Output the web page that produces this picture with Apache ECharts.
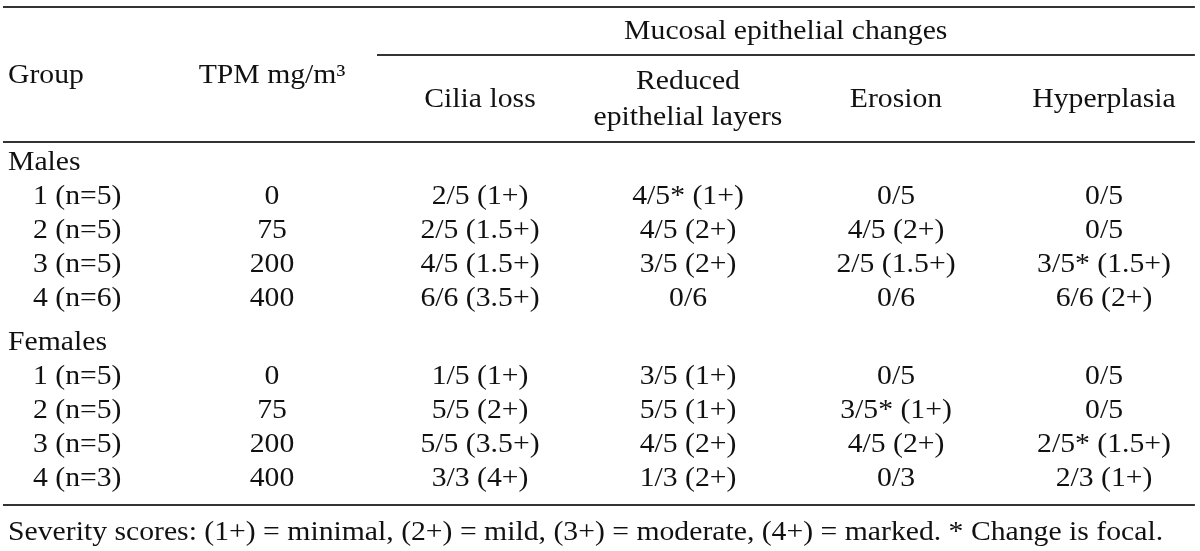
<!DOCTYPE html>
<html><head><meta charset="utf-8">
<script src="https://cdn.jsdelivr.net/npm/echarts@6/dist/echarts.min.js"></script>
<style>html,body{margin:0;padding:0;background:#fff}#c{width:1200px;height:551px}</style>
</head><body><div id="c"></div>
<script>
// ---- data ----
const spanHeader = 'Mucosal epithelial changes';
const columnHeaders = ['Group', 'TPM mg/m³', 'Cilia loss', 'Reduced\nepithelial layers', 'Erosion', 'Hyperplasia'];
const sections = ['Males', 'Females'];
const maleGroups = ['1 (n=5)', '2 (n=5)', '3 (n=5)', '4 (n=6)'];
const femaleGroups = ['1 (n=5)', '2 (n=5)', '3 (n=5)', '4 (n=3)'];
const tpm = ['0', '75', '200', '400'];
const maleCilia = ['2/5 (1+)', '2/5 (1.5+)', '4/5 (1.5+)', '6/6 (3.5+)'];
const maleReduced = ['4/5* (1+)', '4/5 (2+)', '3/5 (2+)', '0/6'];
const maleErosion = ['0/5', '4/5 (2+)', '2/5 (1.5+)', '0/6'];
const maleHyper = ['0/5', '0/5', '3/5* (1.5+)', '6/6 (2+)'];
const femaleCilia = ['1/5 (1+)', '5/5 (2+)', '5/5 (3.5+)', '3/3 (4+)'];
const femaleReduced = ['3/5 (1+)', '5/5 (1+)', '4/5 (2+)', '1/3 (2+)'];
const femaleErosion = ['0/5', '3/5* (1+)', '4/5 (2+)', '0/3'];
const femaleHyper = ['0/5', '0/5', '2/5* (1.5+)', '2/3 (1+)'];
const footnote = 'Severity scores: (1+) = minimal, (2+) = mild, (3+) = moderate, (4+) = marked. * Change is focal.';

// ---- layout (axis units: x = column index, y = row index) ----
const FONT = '"Liberation Serif", "Times New Roman", Times, serif';
const FS = 27, SX = 1.1, INK = '#111', RULE = '#333';
const X_MIN = -0.3077, X_MAX = 5.4615;
const Y_MIN = -4.794, Y_MAX = 11.412;
const X_LEFT = -0.2692, X_INDENT = -0.149, X_RULE_L = -0.2933, X_RULE_R = 5.437, X_SPAN_L = 1.5048, X_SPAN_C = 3.47;
const Y_TOP_RULE = -4.588, Y_SPAN = -3.853, Y_SPAN_RULE = -3.176, Y_HEAD1 = -2.559, Y_HEAD2 = -1.853, Y_HEAD_RULE = -0.618;
const SECTION_GAP = 0.3, Y_FOOT_OFFSET = 0.82, Y_BOTTOM_OFFSET = 0.76;

const cells = [];
cells.push({ x: X_SPAN_C, y: Y_SPAN, text: spanHeader, align: 'center' });
columnHeaders.forEach((h, i) => {
  if (i === 0) cells.push({ x: X_LEFT, y: Y_HEAD1, text: h, align: 'left' });
  else if (i === 1) cells.push({ x: i, y: Y_HEAD1, text: h, align: 'center' });
  else cells.push({ x: i, y: Y_HEAD2, text: h, align: 'center' });
});
const blocks = [
  [sections[0], maleGroups, [tpm, maleCilia, maleReduced, maleErosion, maleHyper]],
  [sections[1], femaleGroups, [tpm, femaleCilia, femaleReduced, femaleErosion, femaleHyper]]
];
let row = 0;
blocks.forEach((b, bi) => {
  if (bi > 0) row += SECTION_GAP;
  cells.push({ x: X_LEFT, y: row, text: b[0], align: 'left' });
  row += 1;
  b[1].forEach((g, r) => {
    cells.push({ x: X_INDENT, y: row, text: g, align: 'left' });
    b[2].forEach((col, c) => cells.push({ x: c + 1, y: row, text: col[r], align: 'center' }));
    row += 1;
  });
});
const lastRow = row - 1;
const yBottom = lastRow + Y_BOTTOM_OFFSET;
cells.push({ x: X_LEFT, y: yBottom + Y_FOOT_OFFSET, text: footnote, align: 'left' });

const rules = [
  [X_RULE_L, X_RULE_R, Y_TOP_RULE],
  [X_SPAN_L, X_RULE_R, Y_SPAN_RULE],
  [X_RULE_L, X_RULE_R, Y_HEAD_RULE],
  [X_RULE_L, X_RULE_R, yBottom]
];

const chart = echarts.init(document.getElementById('c'), null, { renderer: 'canvas' });
chart.setOption({
  backgroundColor: '#fff',
  animation: false,
  grid: { left: 0, right: 0, top: 0, bottom: 0 },
  xAxis: { type: 'value', min: X_MIN, max: X_MAX, show: false },
  yAxis: { type: 'value', min: Y_MIN, max: Y_MAX, inverse: true, show: false },
  series: [
    {
      type: 'custom', clip: false, silent: true,
      data: rules.map(r => [r[0], r[2], r[1]]),
      renderItem: (params, api) => {
        const r = rules[params.dataIndex];
        const a = api.coord([r[0], r[2]]), b = api.coord([r[1], r[2]]);
        return { type: 'line', shape: { x1: a[0], y1: a[1], x2: b[0], y2: b[1] },
                 style: { stroke: RULE, lineWidth: 2 } };
      }
    },
    {
      type: 'custom', clip: false, silent: true,
      data: cells.map(c => [c.x, c.y]),
      renderItem: (params, api) => {
        const c = cells[params.dataIndex];
        const p = api.coord([c.x, c.y]);
        return { type: 'text', x: p[0], y: p[1], scaleX: SX, scaleY: 1,
                 style: { text: c.text, fill: INK, fontFamily: FONT, fontSize: FS,
                          align: c.align, verticalAlign: 'middle', lineHeight: 36 } };
      }
    }
  ]
});
</script></body></html>
